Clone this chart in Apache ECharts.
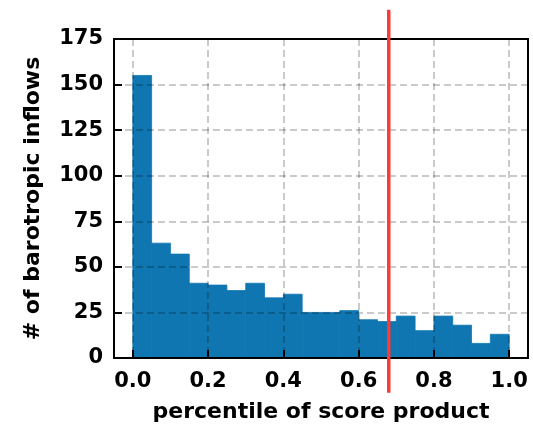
<!DOCTYPE html>
<html>
<head>
<meta charset="utf-8">
<script src="https://cdn.jsdelivr.net/npm/echarts@6/dist/echarts.min.js"></script>
<style>html,body{margin:0;padding:0;background:#fff}#c{width:533px;height:424px}</style>
</head>
<body>
<div id="c"></div>
<script>
// Histogram data (20 bins of width 0.05 over [0, 1])
const binEdges = [0.00,0.05,0.10,0.15,0.20,0.25,0.30,0.35,0.40,0.45,0.50,0.55,0.60,0.65,0.70,0.75,0.80,0.85,0.90,0.95,1.00];
const counts = [155,63,57,41,40,37,41,33,35,25,25,26,21,20,23,15,23,18,8,13];
const xTicks = [0.0,0.2,0.4,0.6,0.8,1.0];
const yTicks = [0,25,50,75,100,125,150,175];
const thresholdX = 0.68;
const thresholdSpan = [-19, 191];

const histData = counts.map((c, i) => [binEdges[i], binEdges[i + 1], c]);

const labelFont = { fontFamily: 'DejaVu Sans', fontWeight: 'bold', fontSize: 21, color: '#000' };
const nameFont = { fontFamily: 'DejaVu Sans', fontWeight: 'bold', fontSize: 22, color: '#000' };
const gridLine = { show: true, lineStyle: { color: 'rgba(0,0,0,0.28)', type: [7, 4], width: 1.5 } };
const chart = echarts.init(document.getElementById('c'));
chart.setOption({
  animation: false,
  backgroundColor: '#fff',
  grid: { left: 114, right: 5, top: 39, bottom: 66, outerBoundsMode: 'none', containLabel: false, show: true, borderColor: '#000', borderWidth: 2, backgroundColor: 'transparent', zlevel: 1 },
  xAxis: {
    type: 'value', min: -0.05, max: 1.05, zlevel: 1,
    name: 'percentile of score product', nameLocation: 'middle', nameGap: 43,
    nameTextStyle: nameFont,
    axisLine: { show: true, onZero: false, lineStyle: { color: '#000', width: 2 } },
    axisTick: { show: true, inside: true, length: 8, customValues: xTicks, lineStyle: { color: '#000', width: 2 } },
    axisLabel: { customValues: xTicks, margin: 13, ...labelFont, formatter: v => v.toFixed(1) },
    splitLine: gridLine
  },
  yAxis: {
    type: 'value', min: 0, max: 175, interval: 25, zlevel: 1,
    name: '# of barotropic inflows', nameLocation: 'middle', nameGap: 70, nameRotate: 90,
    nameTextStyle: nameFont,
    axisLine: { show: true, onZero: false, lineStyle: { color: '#000', width: 2 } },
    axisTick: { show: true, inside: true, length: 8, customValues: yTicks, lineStyle: { color: '#000', width: 2 } },
    axisLabel: { customValues: yTicks, margin: 11, ...labelFont },
    splitLine: gridLine
  },
  series: [
    {
      type: 'custom', zlevel: 0, z: 2,
      data: histData,
      renderItem: (params, api) => {
        const p0 = api.coord([api.value(0), api.value(2)]);
        const p1 = api.coord([api.value(1), 0]);
        return { type: 'rect', shape: { x: p0[0], y: p0[1], width: p1[0] - p0[0], height: p1[1] - p0[1] }, style: { fill: '#0f76b1', stroke: '#0f76b1', lineWidth: 0.8 } };
      }
    },
    {
      type: 'custom', zlevel: 2, z: 10, clip: false,
      data: [[thresholdX, thresholdSpan[0], thresholdSpan[1]]],
      renderItem: (params, api) => {
        const a = api.coord([api.value(0), api.value(1)]);
        const b = api.coord([api.value(0), api.value(2)]);
        return { type: 'line', shape: { x1: a[0], y1: a[1], x2: b[0], y2: b[1] }, style: { stroke: '#fc3a3a', lineWidth: 3.5 } };
      }
    }
  ]
});
</script>
</body>
</html>
